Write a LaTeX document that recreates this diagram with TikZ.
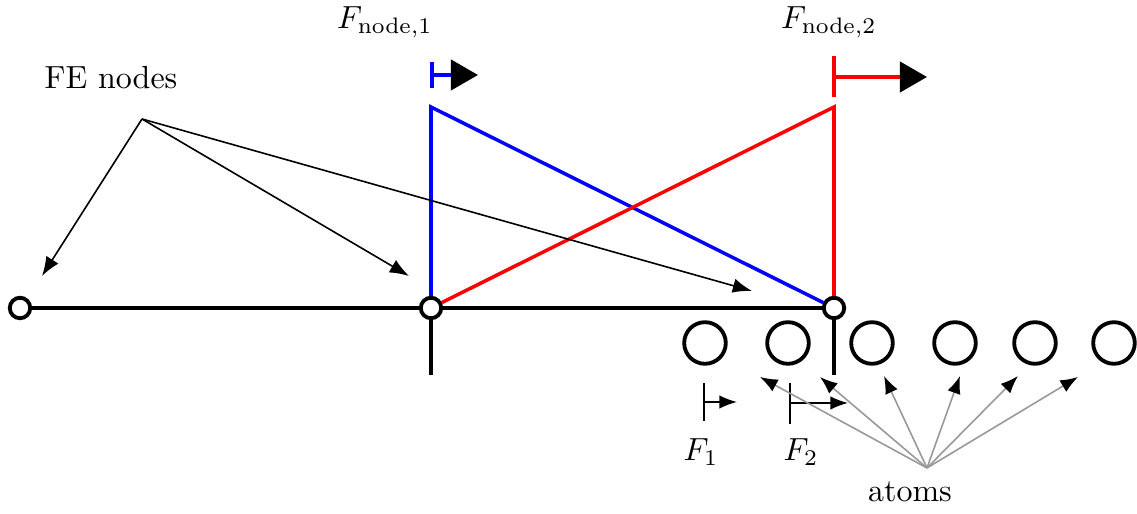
\documentclass[tikz,border=0pt]{standalone}
\usetikzlibrary{arrows.meta}
\begin{document}
\begin{tikzpicture}[x=0.3125pt,y=-0.3125pt,
  fenode/.style={circle,draw=black,fill=white,line width=1.2pt,minimum size=6.4pt,inner sep=0pt},
  atom/.style={circle,draw=black,line width=1.2pt,minimum size=13pt,inner sep=0pt},
  bar/.style={line width=1.2pt},
  hat/.style={line width=1.1pt},
  pointer/.style={line width=0.5pt,-{Latex[length=6pt,width=4.5pt]}},
  grayptr/.style={line width=0.5pt,draw=black!40,-{Latex[length=5.5pt,width=4.2pt,black]}},
  bigforce/.style={line width=1.1pt,-{Triangle[length=8.5pt,width=9.5pt,black]}},
  smallforce/.style={line width=0.5pt,-{Latex[length=5.5pt,width=4.2pt]}},
  lbl/.style={inner sep=0pt}]
\useasboundingbox (0,0) rectangle (1137,514);
% FE nodes
\node[fenode] (n1) at (20,308) {};
\node[fenode] (n2) at (431,308) {};
\node[fenode] (n3) at (834,308) {};
\coordinate (t2) at (431,375);
\coordinate (t3) at (834,375);
\coordinate (btop) at (431,107);
\coordinate (rtop) at (834,107);
\draw[bar] (n1) -- (n2);
\draw[bar] (n2) -- (n3);
\draw[bar] (n2) -- (t2);
\draw[bar] (n3) -- (t3);
% hat functions
\draw[hat,blue] (n2) -- (btop) -- (n3);
\draw[hat,red] (n3) -- (rtop) -- (n2);
% node forces
\coordinate (bt1) at (432,62);
\coordinate (bt2) at (432,88);
\coordinate (bf0) at (432,75);
\coordinate (bf1) at (478,75);
\draw[hat,blue] (bt1) -- (bt2);
\draw[bigforce,blue] (bf0) -- (bf1);
\coordinate (rt1) at (834,56);
\coordinate (rt2) at (834,97);
\coordinate (rf0) at (834,77);
\coordinate (rf1) at (927,77);
\draw[hat,red] (rt1) -- (rt2);
\draw[bigforce,red] (rf0) -- (rf1);
\node[lbl] (fn1) at (385,22) {$F_{\mathrm{node},1}$};
\node[lbl] (fn2) at (829,22) {$F_{\mathrm{node},2}$};
% FE nodes label
\node[lbl] (fe) at (111,78) {FE nodes};
\coordinate (feo) at (142,119);
\coordinate (fe1) at (42,276);
\coordinate (fe2) at (409,276);
\coordinate (fe3) at (752,291);
\draw[pointer] (feo) -- (fe1);
\draw[pointer] (feo) -- (fe2);
\draw[pointer] (feo) -- (fe3);
% atoms
\node[atom] (a1) at (705,343) {};
\node[atom] (a2) at (788,343) {};
\node[atom] (a3) at (872,343) {};
\node[atom] (a4) at (955,343) {};
\node[atom] (a5) at (1035,343) {};
\node[atom] (a6) at (1114,343) {};
% atom forces
\coordinate (f1t1) at (704,383);
\coordinate (f1t2) at (704,421);
\coordinate (f1a) at (704,402);
\coordinate (f1b) at (737,402);
\draw[line width=0.5pt] (f1t1) -- (f1t2);
\draw[smallforce] (f1a) -- (f1b);
\coordinate (f2t1) at (790,383);
\coordinate (f2t2) at (790,424);
\coordinate (f2a) at (790,403);
\coordinate (f2b) at (848,403);
\draw[line width=0.5pt] (f2t1) -- (f2t2);
\draw[smallforce] (f2a) -- (f2b);
\node[lbl] (lf1) at (701,452) {$F_1$};
\node[lbl] (lf2) at (801,452) {$F_2$};
% atoms label
\node[lbl] (at) at (910,492) {atoms};
\coordinate (ato) at (927,468);
\coordinate (ap1) at (760,377);
\coordinate (ap2) at (820,377);
\coordinate (ap3) at (884,376);
\coordinate (ap4) at (960,376);
\coordinate (ap5) at (1018,376);
\coordinate (ap6) at (1078,377);
\foreach \p in {ap1,ap2,ap3,ap4,ap5,ap6} \draw[grayptr] (ato) -- (\p);
\end{tikzpicture}
\end{document}
